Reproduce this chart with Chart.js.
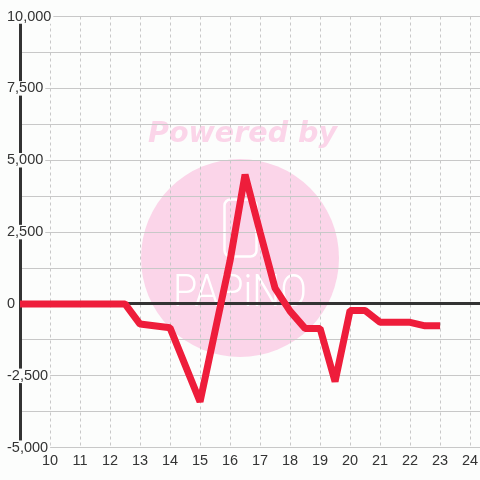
<!DOCTYPE html>
<html><head><meta charset="utf-8">
<script src="https://cdn.jsdelivr.net/npm/chart.js@4.4.0/dist/chart.umd.min.js"></script>
<style>html,body{margin:0;padding:0;background:#fcfdfc;}canvas{display:block}</style>
</head><body>
<canvas id="c" width="480" height="480"></canvas>
<script>
const hours = [8.5, 12.5, 13, 14, 15, 16, 16.5, 17, 17.5, 18, 18.5, 19, 19.5, 20, 20.5, 21, 22, 22.5, 23];
const values = [0, 0, -700, -830, -3400, 1500, 4500, 2500, 550, -250, -850, -850, -2700, -230, -230, -640, -640, -760, -760];
const xTickValues = [10, 11, 12, 13, 14, 15, 16, 17, 18, 19, 20, 21, 22, 23, 24];
const yTickValues = [-5000, -3750, -2500, -1250, 0, 1250, 2500, 3750, 5000, 6250, 7500, 8750, 10000];
const yTickLabels = ['-5,000', '', '-2,500', '', '0', '', '2,500', '', '5,000', '', '7,500', '', '10,000'];
const watermarkTitle = 'Powered by';
const watermarkBrand = 'PAPiNO';

const BG = '#fcfdfc';
const PINK = '#fbd5e9';
const GRID = '#c8c8c8';
const DARK = '#333333';

const watermark = {
  id: 'watermark',
  beforeDraw(chart) {
    const ctx = chart.ctx;
    ctx.save();
    ctx.fillStyle = BG;
    ctx.fillRect(0, 0, chart.width, chart.height);
    ctx.fillStyle = PINK;
    ctx.beginPath();
    ctx.arc(240, 258, 99, 0, Math.PI * 2);
    ctx.fill();
    // title
    ctx.font = 'italic bold 28px "DejaVu Sans"';
    const w = ctx.measureText(watermarkTitle).width;
    ctx.textBaseline = 'alphabetic';
    ctx.textAlign = 'left';
    ctx.translate(148, 142);
    ctx.scale(189 / w, 1);
    ctx.fillText(watermarkTitle, 0, 0);
    ctx.restore();
    // logo
    ctx.save();
    ctx.strokeStyle = '#ffffff';
    ctx.lineWidth = 2.5;
    ctx.beginPath();
    ctx.roundRect(224.5, 199.5, 32, 57, 6);
    ctx.stroke();
    ctx.fillStyle = '#ffffff';
    ctx.font = '300 44px Roboto';
    const bw = ctx.measureText(watermarkBrand).width;
    ctx.textBaseline = 'alphabetic';
    ctx.translate(173, 306);
    ctx.scale(134 / bw, 1);
    ctx.fillText(watermarkBrand, 0, 0);
    ctx.restore();
  }
};

new Chart(document.getElementById('c'), {
  type: 'line',
  data: {
    datasets: [{
      data: hours.map((h, i) => ({ x: h, y: values[i] })),
      borderColor: '#ee1d3b',
      borderWidth: 7,
      pointRadius: 0,
      tension: 0,
      fill: false,
      borderJoinStyle: 'bevel',
      borderCapStyle: 'butt'
    }]
  },
  options: {
    responsive: false,
    animation: false,
    layout: { padding: { top: 16.5, left: 0, right: 0, bottom: 0 } },
    plugins: { legend: { display: false }, tooltip: { enabled: false } },
    scales: {
      x: {
        type: 'linear', min: 9, max: 24.33,
        afterBuildTicks: s => { s.ticks = xTickValues.map(v => ({ value: v })); },
        afterFit: s => { s.height = 32.3; s.paddingLeft = 0; s.paddingRight = 0; },
        grid: { color: GRID, lineWidth: 1, drawTicks: false },
        border: { display: false, dash: [3, 3] },
        ticks: {
          color: DARK, autoSkip: false, maxRotation: 0, padding: 4.5,
          font: { family: '"Liberation Sans", Arial, sans-serif', size: 14.5 },
          callback: v => String(v)
        }
      },
      y: {
        type: 'linear', min: -5000, max: 10000,
        afterBuildTicks: s => { s.ticks = yTickValues.map(v => ({ value: v })); },
        afterFit: s => { s.width = 20; s.paddingTop = 0; s.paddingBottom = 0; },
        grid: {
          color: c => (c.tick && c.tick.value === 0) ? DARK : GRID,
          lineWidth: c => (c.tick && c.tick.value === 0) ? 3 : 1,
          drawTicks: false
        },
        border: { display: true, color: DARK, width: 3 },
        ticks: {
          mirror: true, padding: -13, color: DARK, autoSkip: false,
          font: { family: '"Liberation Sans", Arial, sans-serif', size: 14.5, lineHeight: 1 },
          showLabelBackdrop: true,
          backdropColor: c => (c.tick && c.tick.label) ? BG : 'rgba(0,0,0,0)',
          backdropPadding: { top: 0, bottom: 0, left: 2, right: 2 },
          callback: v => { const i = yTickValues.indexOf(v); return i >= 0 ? yTickLabels[i] : ''; }
        }
      }
    }
  },
  plugins: [watermark]
});
</script>
</body></html>
